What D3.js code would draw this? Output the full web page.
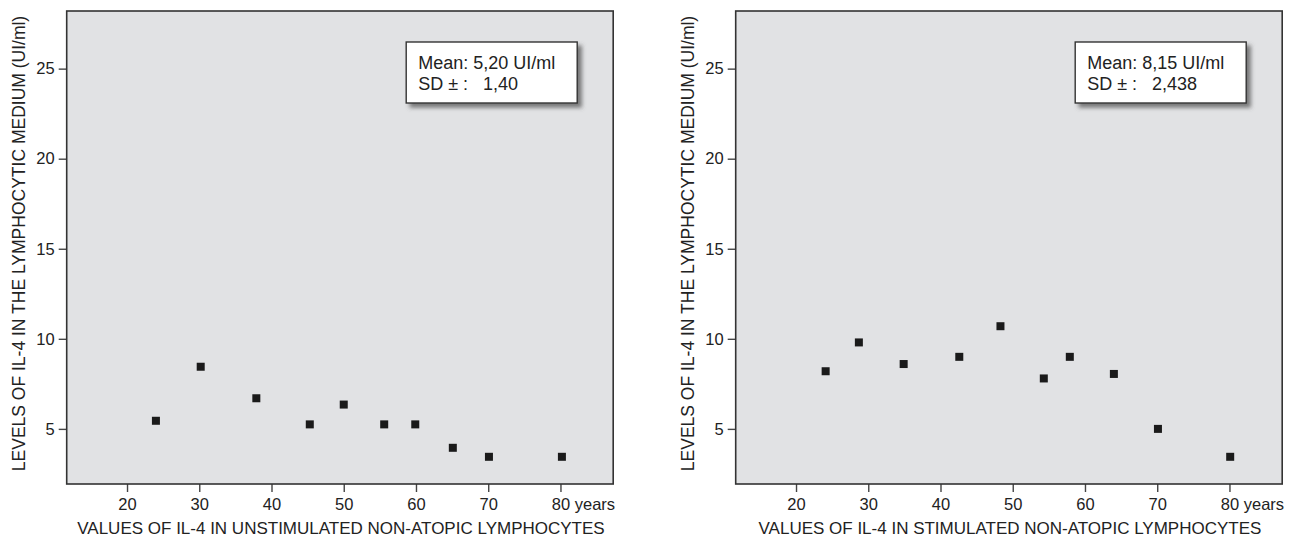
<!DOCTYPE html>
<html>
<head>
<meta charset="utf-8">
<script src="https://cdn.jsdelivr.net/npm/d3@7"></script>
<style>
    body { margin: 0; background: #fff; }
    text { font-family: "Liberation Sans", Arial, sans-serif; fill: #222; }
</style>
</head>
<body>
<div id="chart"></div>
<script>
// data
var ageUnstim = [24.0, 30.2, 37.9, 45.3, 50.0, 55.6, 59.9, 65.1, 70.1, 80.2];
var il4Unstim = [5.45, 8.45, 6.7, 5.25, 6.35, 5.25, 5.25, 3.95, 3.45, 3.45];

var ageStim = [24.1, 28.7, 34.9, 42.6, 48.3, 54.3, 57.9, 64.0, 70.1, 80.1];
var il4Stim = [8.2, 9.8, 8.6, 9.0, 10.7, 7.8, 9.0, 8.05, 5.0, 3.45];

var xTicks = [20, 30, 40, 50, 60, 70, 80];
var yTicks = [5, 10, 15, 20, 25];

var legendUnstim = ["Mean: 5,20 UI/ml", "SD \u00b1 :   1,40"];
var legendStim = ["Mean: 8,15 UI/ml", "SD \u00b1 :   2,438"];

var yTitle = "LEVELS OF IL-4 IN THE LYMPHOCYTIC MEDIUM (UI/ml)";
var xTitleUnstim = "VALUES OF IL-4 IN UNSTIMULATED NON-ATOPIC LYMPHOCYTES";
var xTitleStim = "VALUES OF IL-4 IN STIMULATED NON-ATOPIC LYMPHOCYTES";

// svg wrapper
var svgWidth = 1290;
var svgHeight = 540;

var svg = d3.select("#chart")
    .append("svg")
    .attr("width", svgWidth)
    .attr("height", svgHeight);

// drop shadow for the legend boxes
var filter = svg.append("defs").append("filter")
    .attr("id", "shadow")
    .attr("x", "-20%").attr("y", "-20%")
    .attr("width", "150%").attr("height", "160%");
filter.append("feDropShadow")
    .attr("dx", 4)
    .attr("dy", 4)
    .attr("stdDeviation", 2.2)
    .attr("flood-color", "#555")
    .attr("flood-opacity", 0.75);

var plotWidth = 546.5;
var plotHeight = 473;

function drawPanel(left, ages, values, legendLines, xTitle) {
    var g = svg.append("g")
        .attr("transform", `translate(${left}, 11)`);

    var x = d3.scaleLinear()
        .domain([11.65, 87.3])
        .range([0, plotWidth]);

    var y = d3.scaleLinear()
        .domain([1.94, 28.2])
        .range([plotHeight, 0]);

    // background
    g.append("rect")
        .attr("width", plotWidth)
        .attr("height", plotHeight)
        .attr("fill", "#e1e2e4");

    // axes
    var bottomAxis = d3.axisBottom(x)
        .tickValues(xTicks)
        .tickSize(8)
        .tickPadding(6)
        .tickFormat(d => d === 80 ? "80 years" : d);

    var leftAxis = d3.axisLeft(y)
        .tickValues(yTicks)
        .tickSize(8)
        .tickPadding(4);

    var xAxis = g.append("g")
        .attr("transform", `translate(0, ${plotHeight})`)
        .call(bottomAxis);

    var yAxis = g.append("g")
        .call(leftAxis);

    [xAxis, yAxis].forEach(function(a) {
        a.select(".domain").remove();
        a.selectAll("line").attr("stroke", "#444").attr("stroke-width", 1.4);
        a.selectAll("text")
            .attr("font-size", "16.5px")
            .attr("font-family", "Liberation Sans, Arial, sans-serif")
            .attr("fill", "#222");
    });

    // "80 years": keep the number centred on its tick
    xAxis.selectAll(".tick text")
        .filter(d => d === 80)
        .attr("text-anchor", "start")
        .attr("x", -9.2);

    // frame
    g.append("rect")
        .attr("width", plotWidth)
        .attr("height", plotHeight)
        .attr("fill", "none")
        .attr("stroke", "#333")
        .attr("stroke-width", 1.6);

    // points
    var pts = ages.map((a, i) => ({age: a, val: values[i]}));
    g.selectAll(".pt")
        .data(pts)
        .enter()
        .append("rect")
        .attr("class", "pt")
        .attr("x", d => x(d.age) - 4)
        .attr("y", d => y(d.val) - 4)
        .attr("width", 8)
        .attr("height", 8)
        .attr("fill", "#1a1a1a");

    // legend box
    var lg = g.append("g")
        .attr("transform", `translate(${plotWidth - 36 - 171}, 31)`);

    lg.append("rect")
        .attr("width", 171)
        .attr("height", 61)
        .attr("fill", "#fff")
        .attr("stroke", "#333")
        .attr("stroke-width", 1.4)
        .attr("filter", "url(#shadow)");

    lg.selectAll("text")
        .data(legendLines)
        .enter()
        .append("text")
        .attr("x", 12)
        .attr("y", (d, i) => 27 + i * 21)
        .attr("font-size", "18px")
        .attr("xml:space", "preserve")
        .style("white-space", "pre")
        .text(d => d);

    // titles
    g.append("text")
        .attr("transform", "rotate(-90)")
        .attr("x", -plotHeight / 2 + 4)
        .attr("y", -41.5)
        .attr("text-anchor", "middle")
        .attr("font-size", "17.5px")
        .text(yTitle);

    g.append("text")
        .attr("x", plotWidth / 2 + 1)
        .attr("y", plotHeight + 50)
        .attr("text-anchor", "middle")
        .attr("font-size", "17px")
        .text(xTitle);
}

drawPanel(66.7, ageUnstim, il4Unstim, legendUnstim, xTitleUnstim);
drawPanel(735.7, ageStim, il4Stim, legendStim, xTitleStim);
</script>
</body>
</html>
